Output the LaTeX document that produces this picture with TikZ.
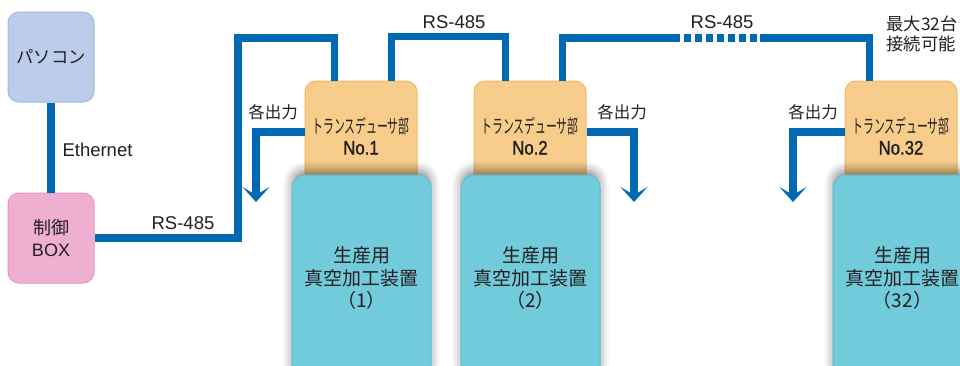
\documentclass[tikz,border=0pt]{standalone}
\usepackage{fontspec}
\setmainfont{Noto Sans CJK JP}
\newfontfamily\narrowjp[FakeStretch=0.57]{Noto Sans CJK JP}
\newfontfamily\latinsf{Liberation Sans}
\newfontfamily\numsf[FakeStretch=0.86,FakeBold=1.3]{Liberation Sans}
\usetikzlibrary{arrows.meta,shadows.blur}
\definecolor{busblue}{HTML}{0069B4}
\definecolor{inkgray}{HTML}{231F20}
\definecolor{pcblue}{HTML}{BCCDEB}
\definecolor{pcedge}{HTML}{A3B8E0}
\definecolor{ctrlpink}{HTML}{EEAFD0}
\definecolor{ctrledge}{HTML}{E396C2}
\definecolor{tdorange}{HTML}{F8CC8A}
\definecolor{tdedge}{HTML}{EDB968}
\definecolor{eqcyan}{HTML}{72CBDB}
\definecolor{eqedge}{HTML}{5DC1D4}
\begin{document}
\begin{tikzpicture}[x=1pt,y=-1pt,every node/.style={text=inkgray},
	box/.style={draw,line width=1pt,rounded corners=11pt,align=center,inner sep=0pt},
	pcbox/.style={box,fill=pcblue,draw=pcedge,minimum width=86pt,minimum height=90pt,
		font=\fontsize{17.3}{22}\selectfont},
	ctrlbox/.style={box,fill=ctrlpink,draw=ctrledge,minimum width=86pt,minimum height=90pt,
		font=\fontsize{18}{22}\selectfont},
	tdbox/.style={box,fill=tdorange,draw=tdedge,minimum width=112pt,minimum height=110pt,
		font=\fontsize{19}{21}\selectfont},
	eqbox/.style={box,rounded corners=13pt,fill=eqcyan,draw=eqedge,minimum width=139pt,minimum height=206pt,
		font=\fontsize{19}{22.5}\selectfont,
		blur shadow={shadow xshift=0pt,shadow yshift=5pt,shadow blur radius=9pt,shadow opacity=45}},
	bus/.style={draw=busblue,line width=7.5pt},
	outarrow/.style={bus,-{Stealth[length=15pt,width=27pt,inset=8pt]}},
	lbl/.style={font=\fontsize{16.5}{21}\selectfont},
	rslbl/.style={font=\latinsf\fontsize{18.5}{22}\selectfont}]
\useasboundingbox (0,0) rectangle (960,365);
\clip (0,0) rectangle (960,365);

% host side
\node[pcbox] (pc) at (51,57) {パソコン};
\node[ctrlbox] (ctrl) at (51,238) {制御\\{\latinsf BOX}};

% transducers and machines
\node[tdbox] (td1) at (361,136) {{\narrowjp トランスデューサ部}\\{\numsf\fontsize{19.5}{21}\selectfont No.1}};
\node[tdbox] (td2) at (530,136) {{\narrowjp トランスデューサ部}\\{\numsf\fontsize{19.5}{21}\selectfont No.2}};
\node[tdbox] (td32) at (901,136) {{\narrowjp トランスデューサ部}\\{\numsf\fontsize{19.5}{21}\selectfont No.32}};
\node[eqbox] (eq1) at (361.5,278) {生産用\\真空加工装置\\（1）};
\node[eqbox] (eq2) at (530.5,278) {生産用\\真空加工装置\\（2）};
\node[eqbox] (eq32) at (902.5,278) {生産用\\真空加工装置\\（32）};

% network
\draw[bus] (pc.south) -- (ctrl.north);
\node[rslbl,anchor=west] (eth) at (59,150) {Ethernet};
\draw[bus] (ctrl.east) -| (238,38) -| ([xshift=30pt]td1.north west);
\draw[bus] ([xshift=-26pt]td1.north east) -- ++(0,-44) -| ([xshift=32pt]td2.north west);
\coordinate (gapL) at (673,38);
\coordinate (gapR) at (760,38);
\draw[bus] ([xshift=-24pt]td2.north east) |- (gapL);
\draw[bus,dash pattern=on 7pt off 4pt] (gapL) -- (gapR);
\draw[bus] (gapR) -| ([xshift=25pt]td32.north west);
\node[rslbl] (rs1) at (183,223) {RS-485};
\node[rslbl] (rs2) at (454,22) {RS-485};
\node[rslbl] (rs3) at (722,22) {RS-485};
\node[font=\fontsize{17.3}{20}\selectfont,anchor=west,align=left] (max) at (883,34) {最大32台\\接続可能};

% outputs
\draw[outarrow] ([yshift=4pt]td1.west) -| (256,202);
\draw[outarrow] ([yshift=4pt]td2.east) -| (634,202);
\draw[outarrow] ([yshift=4pt]td32.west) -| (793,202);
\node[lbl] (out1) at (273,112) {各出力};
\node[lbl] (out2) at (622,112) {各出力};
\node[lbl] (out32) at (813,112) {各出力};
\end{tikzpicture}
\end{document}
